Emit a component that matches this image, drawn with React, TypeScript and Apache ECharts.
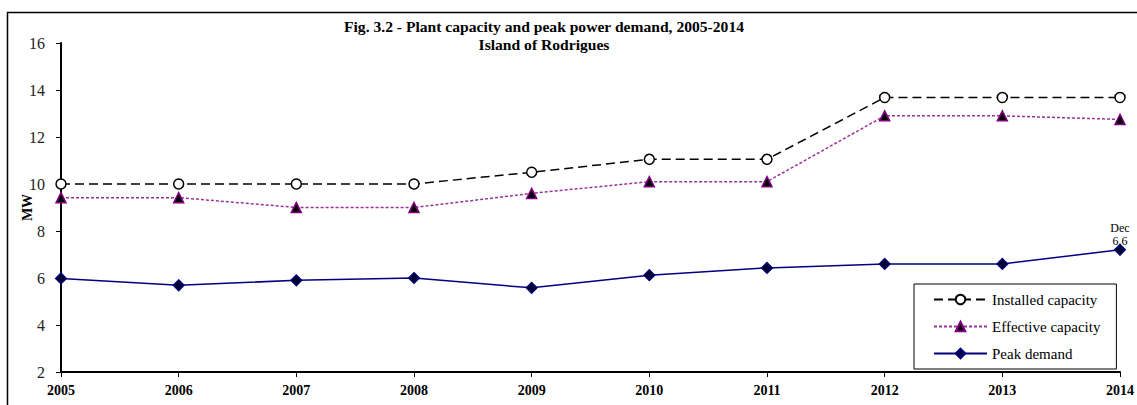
import React, { useEffect, useRef } from "react";
import * as echarts from "echarts";

const categories = ["2005", "2006", "2007", "2008", "2009", "2010", "2011", "2012", "2013", "2014"];
const installedCapacity = [10, 10, 10, 10, 10.5, 11.05, 11.05, 13.68, 13.68, 13.68];
const effectiveCapacity = [9.42, 9.42, 9.0, 9.0, 9.6, 10.1, 10.1, 12.9, 12.9, 12.75];
const peakDemand = [5.98, 5.69, 5.9, 6.0, 5.58, 6.12, 6.43, 6.6, 6.6, 7.2];
const yTicks = { min: 2, max: 16, interval: 2 };

const FONT = "Times New Roman";

export default function App() {
  const ref = useRef<HTMLDivElement>(null);
  useEffect(() => {
    if (!ref.current) return;
    const chart = echarts.init(ref.current, undefined, { renderer: "svg" });
    const peakData = peakDemand.map((v, i) =>
      i === peakDemand.length - 1
        ? {
            value: v,
            label: {
              show: true,
              position: "top",
              distance: -4,
              formatter: "Dec\n6.6",
              fontFamily: FONT,
              fontSize: 12,
              lineHeight: 13,
              color: "#000",
            },
          }
        : v
    );
    chart.setOption({
      animation: false,
      backgroundColor: "#fff",
      textStyle: { fontFamily: FONT },
      title: {
        text: "Fig. 3.2 - Plant capacity and peak power demand, 2005-2014\nIsland of Rodrigues",
        left: 539,
        top: 12,
        textAlign: "center",
        textStyle: { fontFamily: FONT, fontSize: 15.6, fontWeight: "bold", lineHeight: 18, color: "#000" },
      },
      graphic: [
        {
          type: "rect",
          shape: { x: 7.5, y: 12.5, width: 1140, height: 400 },
          style: { fill: "none", stroke: "#000", lineWidth: 1.5 },
          silent: true,
        },
      ],
      legend: {
        orient: "vertical",
        left: 914,
        top: 284,
        backgroundColor: "#fff",
        borderColor: "#000",
        borderWidth: 1,
        padding: [8, 16, 8, 19],
        itemWidth: 53,
        itemHeight: 12,
        itemGap: 12,
        textStyle: { fontFamily: FONT, fontSize: 15, color: "#000" },
        data: ["Installed capacity", "Effective capacity", "Peak demand"],
      },
      grid: { left: 61, right: 17, top: 43, bottom: 33 },
      xAxis: {
        type: "category",
        data: categories,
        boundaryGap: false,
        axisLine: { lineStyle: { color: "#000", width: 2 } },
        axisTick: { show: true, length: 5, lineStyle: { color: "#000", width: 1 } },
        axisLabel: { fontFamily: FONT, fontSize: 14, fontWeight: "bold", color: "#000", margin: 11 },
        splitLine: { show: false },
      },
      yAxis: {
        type: "value",
        min: yTicks.min,
        max: yTicks.max,
        interval: yTicks.interval,
        name: "MW",
        nameLocation: "middle",
        nameRotate: 90,
        nameGap: 27,
        nameMoveOverlap: false,
        nameTextStyle: { fontFamily: FONT, fontSize: 14, fontWeight: "bold", color: "#000" },
        axisLine: { show: true, lineStyle: { color: "#000", width: 2 } },
        axisTick: { show: true, length: 5, lineStyle: { color: "#000", width: 1 } },
        axisLabel: { fontFamily: FONT, fontSize: 16, color: "#222", margin: 16 },
        splitLine: { show: false },
      },
      series: [
        {
          name: "Installed capacity",
          type: "line",
          data: installedCapacity,
          symbol: "circle",
          symbolSize: 10,
          itemStyle: { color: "#fff", borderColor: "#000", borderWidth: 1.5 },
          lineStyle: { color: "#000", width: 1.5, type: [9, 5] },
          z: 3,
        },
        {
          name: "Effective capacity",
          type: "line",
          data: effectiveCapacity,
          symbol: "triangle",
          symbolSize: 10,
          itemStyle: { color: "#000", borderColor: "#800080", borderWidth: 1.5 },
          lineStyle: { color: "#993399", width: 1.5, type: [3, 2] },
          z: 3,
        },
        {
          name: "Peak demand",
          type: "line",
          data: peakData,
          symbol: "diamond",
          symbolSize: 11,
          itemStyle: { color: "#000033", borderColor: "#000080", borderWidth: 1.2 },
          lineStyle: { color: "#000080", width: 1.5 },
          z: 3,
        },
      ],
    });
    return () => chart.dispose();
  }, []);
  return (
    <div
      ref={ref}
      style={{ position: "fixed", left: 0, top: 0, width: 1137, height: 405, background: "#fff" }}
    />
  );
}
